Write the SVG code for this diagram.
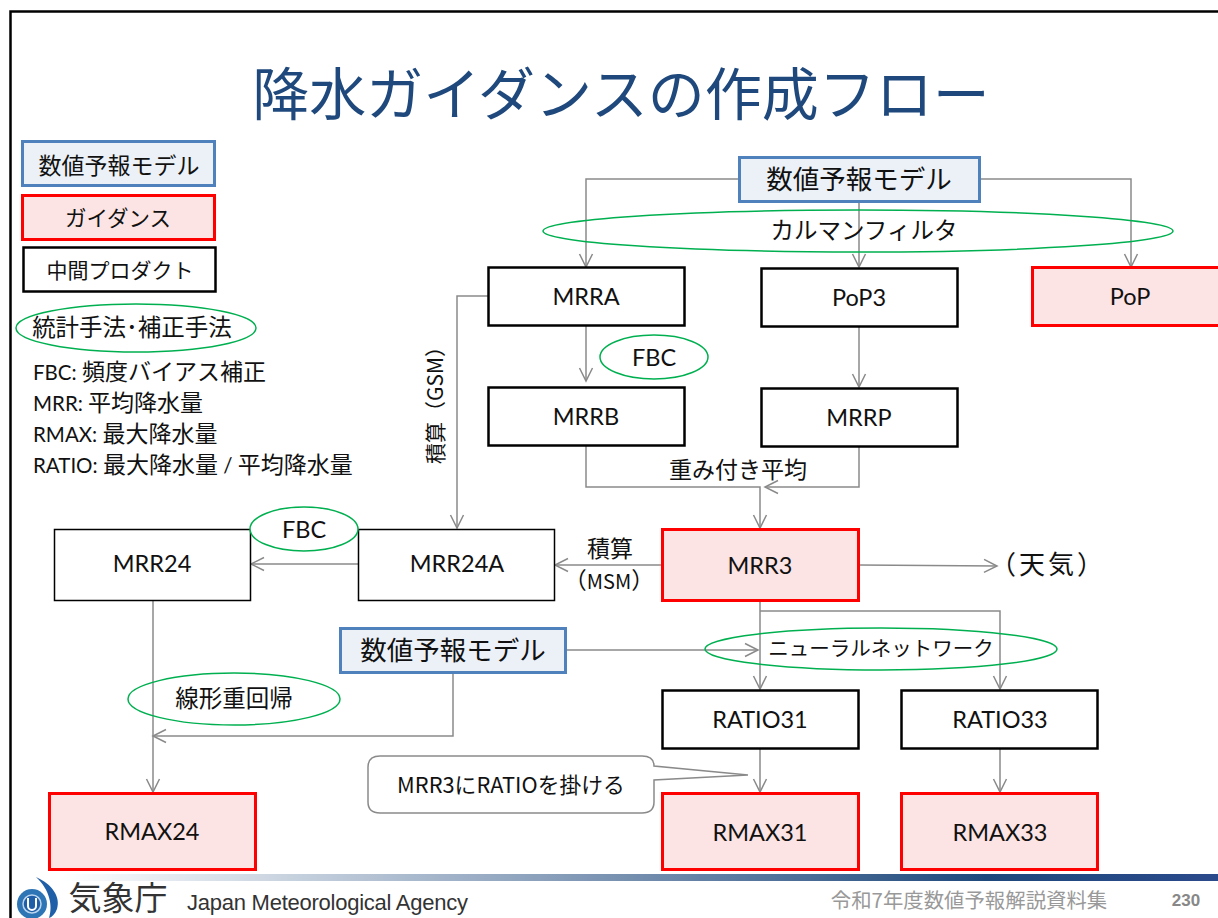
<svg xmlns="http://www.w3.org/2000/svg" width="1218" height="918" viewBox="0 0 1218 918">
<style>
text{font-family:Lato,"Noto Sans CJK JP",sans-serif;fill:#111;text-anchor:middle}
.j{font-family:"Noto Sans CJK JP",sans-serif}
.b{fill:#ecf1f8;stroke:#4f81bd;stroke-width:3}
.r{fill:#fde4e4;stroke:#f00;stroke-width:3}
.k{fill:#fff;stroke:#000;stroke-width:2.5}
.e{fill:none;stroke:#00b050;stroke-width:1.5}
.c{fill:none;stroke:#8a8a8a;stroke-width:1.5}
.t{font-size:23.5px}.s{font-size:23px}.m{font-size:26.500px}
.l{text-anchor:start;font-size:20.500px}
.l tspan{font-family:"Noto Sans CJK JP",sans-serif;font-size:23px}
</style>
<defs>
<marker id="a" markerUnits="userSpaceOnUse" markerWidth="16" markerHeight="16" refX="14" refY="8" orient="auto">
<path d="M1 1.500L14 8L1 14.500" fill="none" stroke="#8a8a8a" stroke-width="1.500"/>
</marker>
<linearGradient id="g" x1="0" x2="1" y1="0" y2="0">
<stop offset="0" stop-color="#fff"/><stop offset=".8" stop-color="#1f497d"/><stop offset="1" stop-color="#2b4a8b"/>
</linearGradient>
</defs>
<rect width="1218" height="918" fill="#fff"/>
<path d="M10.500 918V11.500H1218" fill="none" stroke="#000" stroke-width="2.500"/>
<text x="621" y="115" style="font-size:57px;fill:#1f497d" class="j">降水ガイダンスの作成フロー</text>

<g id="legend-model"><rect class="b" x="22.500" y="141.500" width="192" height="44"/><text class="s j" x="119" y="174">数値予報モデル</text></g>
<g id="legend-guidance"><rect class="r" x="22.500" y="195.500" width="192" height="44"/><text class="j" style="font-size:21.500px" x="118" y="226">ガイダンス</text></g>
<g id="legend-product"><rect class="k" x="23.500" y="247.500" width="192" height="44"/><text class="j" style="font-size:21px" x="120" y="278">中間プロダクト</text></g>
<g id="legend-method"><ellipse class="e" cx="136" cy="328" rx="120" ry="24"/><text class="j" style="font-size:23.500px" x="132" y="336">統計手法･補正手法</text></g>
<g id="legend-notes">
<text class="l" x="33" y="380">FBC: <tspan>頻度バイアス補正</tspan></text>
<text class="l" x="33" y="411">MRR: <tspan>平均降水量</tspan></text>
<text class="l" x="33" y="442">RMAX: <tspan>最大降水量</tspan></text>
<text class="l" x="33" y="473">RATIO: <tspan>最大降水量</tspan> / <tspan>平均降水量</tspan></text>
</g>

<g id="connectors">
<path class="c" marker-end="url(#a)" d="M739 179H586V267"/>
<path class="c" marker-end="url(#a)" d="M859 201V267"/>
<path class="c" marker-end="url(#a)" d="M979 179H1131V267"/>
<path class="c" marker-end="url(#a)" d="M586 325V381"/>
<path class="c" marker-end="url(#a)" d="M859 326V387"/>
<path class="c" marker-end="url(#a)" d="M488 296H457V528"/>
<path class="c" marker-end="url(#a)" d="M586 445V487H760V528"/>
<path class="c" marker-end="url(#a)" d="M859 446V487H765"/>
<path class="c" marker-end="url(#a)" d="M662 565H555"/>
<path class="c" marker-end="url(#a)" d="M358 564L251 564"/>
<path class="c" marker-end="url(#a)" d="M859 565L997 566"/>
<path class="c" marker-end="url(#a)" d="M760 601V689"/>
<path class="c" marker-end="url(#a)" d="M760 611H1000V689"/>
<path class="c" marker-end="url(#a)" d="M566 650H758"/>
<path class="c" marker-end="url(#a)" d="M153 600V792"/>
<path class="c" marker-end="url(#a)" d="M453 672V736H153"/>
<path class="c" marker-end="url(#a)" d="M760 748V792"/>
<path class="c" marker-end="url(#a)" d="M1000 748V792"/>
</g>

<g id="model-top"><rect class="b" x="739.500" y="157.500" width="240" height="44"/><text class="m j" x="859" y="189">数値予報モデル</text></g>
<g id="kalman"><ellipse class="e" cx="858" cy="231" rx="315" ry="21"/><text class="j" style="font-size:23.500px" x="864" y="239">カルマンフィルタ</text></g>
<g id="MRRA"><rect class="k" x="488.500" y="267.500" width="196" height="58"/><text class="t" x="586" y="305">MRRA</text></g>
<g id="PoP3"><rect class="k" x="761.500" y="268.500" width="196" height="58"/><text class="t" x="859" y="306">PoP3</text></g>
<g id="PoP"><rect class="r" x="1032.500" y="267.500" width="200" height="58"/><text class="t" x="1130" y="305">PoP</text></g>
<g id="fbc1"><ellipse class="e" cx="654" cy="357" rx="54" ry="22"/><text class="t" x="654" y="366">FBC</text></g>
<g id="MRRB"><rect class="k" x="488.500" y="387.500" width="196" height="58"/><text class="t" x="586" y="425">MRRB</text></g>
<g id="MRRP"><rect class="k" x="761.500" y="388.500" width="196" height="58"/><text class="t" x="859" y="426">MRRP</text></g>
<g id="label-weight"><text class="s j" x="738" y="478">重み付き平均</text></g>
<g id="label-gsm"><text class="j" style="font-size:21px" transform="translate(443 400) rotate(-90)">積算（GSM）</text></g>
<g id="MRR24"><rect x="54.500" y="529.500" width="196" height="71" fill="#fff" stroke="#000" stroke-width="1.500"/><text class="t" x="152" y="572">MRR24</text></g>
<g id="MRR24A"><rect x="358.500" y="529.500" width="196" height="71" fill="#fff" stroke="#000" stroke-width="1.500"/><text class="t" x="457" y="572">MRR24A</text></g>
<g id="fbc2"><ellipse class="e" cx="304" cy="529" rx="54" ry="22" style="fill:#fff"/><text class="t" x="304" y="538">FBC</text></g>
<g id="MRR3"><rect class="r" x="662.500" y="529.500" width="196" height="71"/><text class="t" x="760" y="574">MRR3</text></g>
<g id="label-msm"><text class="s j" x="610" y="557">積算</text><text class="j" style="font-size:23px" x="609" y="589">（<tspan style="font-size:20px">MSM</tspan>）</text></g>
<g id="weather"><text class="j" style="font-size:26px;letter-spacing:3px" x="1048" y="574">（天気）</text></g>
<g id="model-mid"><rect class="b" x="340.500" y="628.500" width="225" height="44"/><text class="m j" x="453" y="660">数値予報モデル</text></g>
<g id="neural"><ellipse class="e" cx="881" cy="649" rx="176" ry="21"/><text class="j" style="font-size:20.500px" x="881" y="656">ニューラルネットワーク</text></g>
<g id="linear"><ellipse class="e" cx="234" cy="699" rx="106" ry="26"/><text class="j" style="font-size:23.500px" x="234" y="707">線形重回帰</text></g>
<g id="RATIO31"><rect class="k" x="662.500" y="690.500" width="196" height="58"/><text class="t" x="760" y="728">RATIO31</text></g>
<g id="RATIO33"><rect class="k" x="901.500" y="690.500" width="196" height="58"/><text class="t" x="1000" y="728">RATIO33</text></g>
<g id="callout"><path d="M380 756H642Q654 756 654 766L748 775L654 780V802Q654 813 642 813H380Q368 813 368 802V767Q368 756 380 756Z" fill="#fff" stroke="#8a8a8a" stroke-width="1.500"/><text class="j" style="font-size:21.800px" x="511" y="793">MRR3にRATIOを掛ける</text></g>
<g id="RMAX24"><rect class="r" x="49.500" y="793.500" width="206" height="76"/><text class="t" x="152" y="840">RMAX24</text></g>
<g id="RMAX31"><rect class="r" x="662.500" y="793.500" width="196" height="76"/><text class="t" x="760" y="841">RMAX31</text></g>
<g id="RMAX33"><rect class="r" x="901.500" y="793.500" width="196" height="76"/><text class="t" x="1000" y="841">RMAX33</text></g>

<rect x="60" y="874" width="1158" height="7" fill="url(#g)"/>
<g id="logo">
<circle cx="32" cy="904" r="15" fill="#2e75b6"/>
<circle cx="32" cy="904" r="9" fill="#1f5fa8" stroke="#bcd5ee" stroke-width="1.500"/>
<path d="M28 898V906a4 4 0 0 0 8 0V898" fill="none" stroke="#fff" stroke-width="2"/>
<path d="M36 877C52 884 61 897 57 909C55 914 52 917 49 918C53 906 50 890 36 877Z" fill="#1f5fa8"/>
</g>
<text x="118" y="910" style="font-size:33px;fill:#333">気象庁</text>
<text x="187" y="910" style="font-family:'Liberation Sans',sans-serif;font-size:22px;fill:#333;text-anchor:start" textLength="281">Japan Meteorological Agency</text>
<text class="j" x="969" y="908" style="font-size:20.400px;fill:#999">令和7年度数値予報解説資料集</text>
<text x="1186" y="906" style="font-family:'Liberation Sans',sans-serif;font-size:17px;font-weight:bold;fill:#888">230</text>
</svg>
